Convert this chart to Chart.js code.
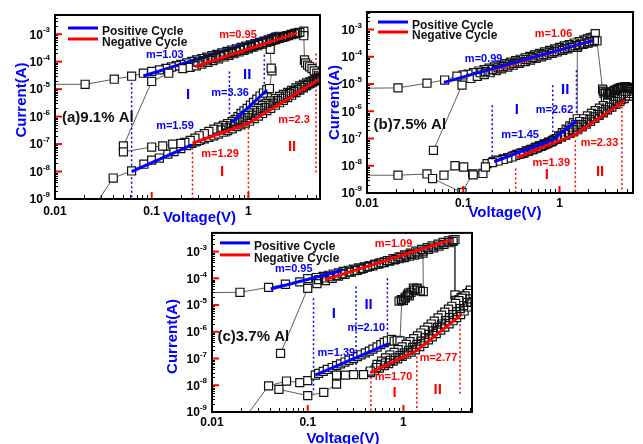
<!DOCTYPE html>
<html>
<head>
<meta charset="utf-8">
<script src="https://cdn.jsdelivr.net/npm/chart.js@4.4.1/dist/chart.umd.min.js"></script>
<style>
  html, body { margin: 0; padding: 0; background: #fff; }
  body { position: relative; width: 643px; height: 444px; overflow: hidden; }
  canvas { position: absolute; }
</style>
</head>
<body>
<canvas id="chartA" width="330" height="226" style="left:0;top:0"></canvas>
<canvas id="chartB" width="321" height="226" style="left:322px;top:0"></canvas>
<canvas id="chartC" width="330" height="218" style="left:150px;top:226px"></canvas>
<script>
const BLUE = '#0000ff'
const RED = '#ff0000'
const FONT = 'Arial, "Liberation Sans", sans-serif'

const xTickValues = [0.01, 0.1, 1]
const xTickLabels = ['0.01', '0.1', '1']

// ---- (a) 9.1% Al ----
const aPosV = [0.025, 0.040, 0.062, 0.083, 0.100, 0.120, 0.147, 0.170, 0.200, 0.230, 0.26, 0.29, 0.32, 0.36, 0.40, 0.44, 0.48, 0.53, 0.58, 0.63, 0.68, 0.73, 0.78, 0.84, 0.90, 0.97, 1.05, 1.13, 1.22, 1.32, 1.43, 1.55, 1.65, 1.75, 1.72, 1.68, 1.75, 1.85, 1.95, 2.05, 1.90, 1.75, 1.60, 1.45, 1.30, 1.17, 1.05, 0.94, 0.84, 0.75, 0.67, 0.60, 0.53, 0.47, 0.42, 0.37, 0.33, 0.29, 0.26, 0.23, 0.20, 0.18, 0.16, 0.14, 0.12, 0.10, 0.082, 0.062, 0.041, 0.0205, 0.008]
const aPosI = [5e-10, 5.8e-9, 1.05e-8, 1.85e-8, 2.6e-8, 3.1e-8, 4.3e-8, 5.3e-8, 6.8e-8, 8.8e-8, 1.05e-7, 1.25e-7, 1.45e-7, 1.75e-7, 2.1e-7, 2.5e-7, 2.9e-7, 3.5e-7, 4.2e-7, 5.2e-7, 6.5e-7, 8e-7, 1.0e-6, 1.3e-6, 1.6e-6, 2.0e-6, 2.6e-6, 3.3e-6, 4.3e-6, 5.6e-6, 7.2e-6, 9.5e-6, 1.05e-5, 4.6e-5, 5.8e-5, 2.8e-4, 6.6e-4, 7.2e-4, 7.8e-4, 8.4e-4, 7.6e-4, 6.9e-4, 6.2e-4, 5.6e-4, 5.0e-4, 4.5e-4, 4.1e-4, 3.7e-4, 3.3e-4, 2.95e-4, 2.65e-4, 2.35e-4, 2.1e-4, 1.85e-4, 1.65e-4, 1.45e-4, 1.3e-4, 1.15e-4, 1.02e-4, 9e-5, 8e-5, 7.1e-5, 6.4e-5, 5.7e-5, 5e-5, 4.4e-5, 3.8e-5, 2.95e-5, 2.3e-5, 1.5e-5, 1.5e-5]
const aNegV = [0.051, 0.10, 0.15, 0.21, 0.25, 0.29, 0.33, 0.38, 0.43, 0.49, 0.56, 0.63, 0.71, 0.80, 0.90, 1.00, 1.12, 1.25, 1.40, 1.55, 1.72, 1.90, 2.10, 2.30, 2.50, 2.75, 3.00, 3.30, 3.74, 3.74, 3.80, 3.90, 4.10, 4.30, 4.55, 4.80, 5.10, 5.30, 5.50, 5.50, 5.20, 4.90, 4.60, 4.30, 4.00, 3.70, 3.40, 3.10, 2.80, 2.55, 2.30, 2.10, 1.90, 1.70, 1.55, 1.40, 1.27, 1.15, 1.03, 0.93, 0.84, 0.76, 0.68, 0.61, 0.55, 0.49, 0.44, 0.39, 0.35, 0.31, 0.28, 0.25, 0.22, 0.20, 0.165, 0.13, 0.10, 0.051]
const aNegI = [8.5e-8, 1.9e-5, 3.8e-5, 5.6e-5, 6.2e-5, 7.0e-5, 8.2e-5, 9.5e-5, 1.1e-4, 1.27e-4, 1.48e-4, 1.7e-4, 1.95e-4, 2.25e-4, 2.6e-4, 2.95e-4, 3.35e-4, 3.8e-4, 4.35e-4, 5e-4, 5.7e-4, 6.4e-4, 7.2e-4, 8e-4, 8.8e-4, 9.8e-4, 1.08e-3, 1.15e-3, 1.3e-3, 8.8e-4, 1.15e-4, 9e-5, 7.5e-5, 6.5e-5, 5.6e-5, 4.6e-5, 3.8e-5, 3.2e-5, 2.8e-5, 2.6e-5, 2.4e-5, 2.2e-5, 2.0e-5, 1.85e-5, 1.7e-5, 1.5e-5, 1.3e-5, 1.1e-5, 9e-6, 7.6e-6, 6.4e-6, 5.4e-6, 4.5e-6, 3.7e-6, 3.0e-6, 2.5e-6, 2.0e-6, 1.65e-6, 1.35e-6, 1.1e-6, 9.2e-7, 7.8e-7, 6.6e-7, 5.6e-7, 4.8e-7, 4.1e-7, 3.5e-7, 2.9e-7, 2.4e-7, 2.0e-7, 1.65e-7, 1.35e-7, 1.15e-7, 1.05e-7, 1.0e-7, 8.5e-8, 7.8e-8, 5.2e-8]
const aSweepV = [0.25, 0.28, 0.31, 0.35, 0.39, 0.44, 0.49, 0.55, 0.61, 0.68, 0.76, 0.84, 0.93, 1.03, 1.15, 1.27, 1.40, 1.55, 1.70, 1.90, 2.10, 2.30, 2.55, 2.80, 3.10, 3.40, 3.70, 4.00, 4.30, 4.60, 4.90, 5.20, 5.50]
const aSweepI = [1.1e-7, 1.2e-7, 1.35e-7, 1.55e-7, 1.75e-7, 2.0e-7, 2.3e-7, 2.7e-7, 3.1e-7, 3.6e-7, 4.3e-7, 5.0e-7, 5.8e-7, 6.8e-7, 8.5e-7, 1.05e-6, 1.3e-6, 1.65e-6, 2.0e-6, 2.6e-6, 3.2e-6, 3.9e-6, 4.9e-6, 6.0e-6, 7.5e-6, 9.3e-6, 1.12e-5, 1.35e-5, 1.6e-5, 1.85e-5, 2.1e-5, 2.4e-5, 2.7e-5]
const aLrsV = [0.30, 0.34, 0.38, 0.42, 0.46, 0.51, 0.56, 0.62, 0.68, 0.75, 0.82, 0.90, 0.98, 1.07, 1.17, 1.28, 1.40, 1.52, 1.65, 1.80, 1.95, 2.10, 2.25, 2.40, 2.60, 2.80, 3.00, 3.20, 3.40]
const aLrsI = [9.5e-5, 1.08e-4, 1.2e-4, 1.33e-4, 1.46e-4, 1.62e-4, 1.78e-4, 1.97e-4, 2.17e-4, 2.4e-4, 2.65e-4, 2.95e-4, 3.25e-4, 3.55e-4, 3.9e-4, 4.3e-4, 4.7e-4, 5.1e-4, 5.6e-4, 6.1e-4, 6.7e-4, 7.2e-4, 7.7e-4, 8.2e-4, 8.9e-4, 9.6e-4, 1.03e-3, 1.1e-3, 1.17e-3]
const aHrsV = [0.52, 0.58, 0.65, 0.72, 0.80, 0.88, 0.98, 1.09, 1.21, 1.34, 1.48, 1.63, 1.80, 2.00, 2.20, 2.42, 2.67, 2.95, 3.25, 3.55, 3.85, 4.15, 4.45, 4.75, 5.05, 5.35]
const aHrsI = [3.3e-7, 3.9e-7, 4.6e-7, 5.4e-7, 6.4e-7, 7.5e-7, 9.2e-7, 1.12e-6, 1.38e-6, 1.7e-6, 2.1e-6, 2.6e-6, 3.1e-6, 3.8e-6, 4.6e-6, 5.6e-6, 6.8e-6, 8.2e-6, 9.8e-6, 1.15e-5, 1.35e-5, 1.52e-5, 1.7e-5, 1.9e-5, 2.1e-5, 2.4e-5]
const aFitBlueHiV = [0.082, 1.96]
const aFitBlueHiI = [3.0e-5, 1.0e-3]
const aFitRedHiV = [0.28, 3.16]
const aFitRedHiI = [6.6e-5, 1.1e-3]
const aFitBlueLoV = [0.062, 0.26]
const aFitBlueLoI = [1.0e-8, 9.3e-8]
const aFitBlueSetV = [0.68, 1.56]
const aFitBlueSetI = [6.3e-7, 9.3e-6]
const aFitRedLoV = [0.264, 1.0, 5.3]
const aFitRedLoI = [1.07e-7, 5.7e-7, 2.2e-5]
const aBlueCutV = [0.062, 0.636, 1.46]
const aBlueCutTop = [1.7e-5, 4.4e-5, 1.8e-4]
const aBlueCutBottom = [1e-9, 1.9e-7, 1.7e-6]
const aRedCutV = [0.264, 1.0, 5.0]
const aRedCutTop = [1.07e-7, 5.7e-7, 2e-4]
const aRedCutBottom = [1e-9, 1e-9, 8.5e-9]

// ---- (b) 7.5% Al ----
const bPosV = [0.0085, 0.021, 0.042, 0.048, 0.097, 0.125, 0.16, 0.177, 0.205, 0.23, 0.26, 0.29, 0.33, 0.37, 0.41, 0.46, 0.52, 0.58, 0.65, 0.73, 0.82, 0.90, 0.98, 1.07, 1.17, 1.28, 1.40, 1.53, 1.53, 1.65, 1.80, 1.95, 2.10, 2.25, 2.10, 1.95, 1.80, 1.60, 1.42, 1.26, 1.12, 1.00, 0.89, 0.79, 0.70, 0.62, 0.55, 0.49, 0.44, 0.39, 0.35, 0.31, 0.27, 0.24, 0.21, 0.185, 0.165, 0.145, 0.128, 0.112, 0.10, 0.086, 0.064, 0.042, 0.021, 0.0085]
const bPosI = [4.5e-9, 4.5e-9, 5.0e-9, 3.4e-9, 1.05e-9, 5.0e-9, 5.2e-9, 1.2e-8, 1.45e-8, 1.6e-8, 1.8e-8, 2.0e-8, 2.3e-8, 2.6e-8, 3.0e-8, 3.4e-8, 3.9e-8, 4.5e-8, 5.3e-8, 6.3e-8, 7.6e-8, 9.5e-8, 1.25e-7, 1.65e-7, 2.2e-7, 2.9e-7, 3.8e-7, 5.3e-7, 2.2e-4, 3.6e-4, 4.0e-4, 4.4e-4, 4.8e-4, 5.3e-4, 4.9e-4, 4.5e-4, 4.1e-4, 3.6e-4, 3.2e-4, 2.8e-4, 2.5e-4, 2.2e-4, 1.95e-4, 1.72e-4, 1.52e-4, 1.34e-4, 1.18e-4, 1.04e-4, 9.2e-5, 8.1e-5, 7.2e-5, 6.4e-5, 5.6e-5, 4.9e-5, 4.3e-5, 3.8e-5, 3.4e-5, 3.0e-5, 2.6e-5, 2.3e-5, 2.15e-5, 1.95e-5, 1.4e-5, 1.07e-5, 7.2e-6, 7.0e-6]
const bNegV = [0.049, 0.097, 0.12, 0.14, 0.165, 0.19, 0.22, 0.25, 0.29, 0.33, 0.38, 0.44, 0.50, 0.57, 0.65, 0.74, 0.84, 0.95, 1.08, 1.22, 1.38, 1.56, 1.76, 1.98, 2.20, 2.35, 2.45, 2.80, 2.90, 3.00, 3.20, 3.40, 3.70, 4.00, 4.40, 4.90, 5.40, 5.60, 5.40, 5.00, 4.60, 4.20, 3.80, 3.45, 3.15, 2.85, 2.60, 2.35, 2.15, 1.95, 1.78, 1.62, 1.48, 1.35, 1.23, 1.12, 1.02, 0.93, 0.85, 0.77, 0.70, 0.64, 0.58, 0.52, 0.47, 0.43, 0.39, 0.35, 0.32, 0.29, 0.26, 0.23, 0.20, 0.17, 0.127, 0.101, 0.082, 0.063]
const bNegI = [3.7e-8, 9.1e-6, 1.6e-5, 1.9e-5, 2.2e-5, 2.6e-5, 3.1e-5, 3.6e-5, 4.2e-5, 4.9e-5, 5.7e-5, 6.6e-5, 7.6e-5, 8.8e-5, 1.0e-4, 1.15e-4, 1.32e-4, 1.5e-4, 1.72e-4, 1.95e-4, 2.2e-4, 2.5e-4, 2.85e-4, 3.2e-4, 3.55e-4, 7.1e-4, 3.8e-4, 6.5e-6, 4.5e-6, 3.0e-6, 3.5e-6, 4.5e-6, 5.5e-6, 6.2e-6, 6.8e-6, 7.2e-6, 7.4e-6, 6.8e-6, 6.3e-6, 5.4e-6, 4.6e-6, 3.8e-6, 3.1e-6, 2.5e-6, 2.0e-6, 1.6e-6, 1.3e-6, 1.05e-6, 8.4e-7, 6.7e-7, 5.3e-7, 4.2e-7, 3.3e-7, 2.6e-7, 2.0e-7, 1.6e-7, 1.25e-7, 1.0e-7, 8.3e-8, 7.0e-8, 6.0e-8, 5.2e-8, 4.5e-8, 3.9e-8, 3.4e-8, 3.0e-8, 2.7e-8, 2.4e-8, 2.1e-8, 1.9e-8, 1.7e-8, 1.5e-8, 1.3e-8, 9e-9, 4.6e-9, 9e-9, 1.0e-8, 4.5e-9]
const bSweepV = [0.36, 0.40, 0.45, 0.50, 0.56, 0.62, 0.69, 0.77, 0.86, 0.95, 1.05, 1.16, 1.28, 1.40, 1.55, 1.72, 1.90, 2.10, 2.33, 2.58, 2.85, 3.15, 3.50, 3.85, 4.25, 4.70, 5.20]
const bSweepI = [2.6e-8, 3.0e-8, 3.5e-8, 4.0e-8, 4.7e-8, 5.5e-8, 6.4e-8, 7.4e-8, 8.7e-8, 1.0e-7, 1.16e-7, 1.34e-7, 1.56e-7, 1.75e-7, 2.1e-7, 2.7e-7, 3.4e-7, 4.3e-7, 5.5e-7, 7.0e-7, 8.8e-7, 1.12e-6, 1.43e-6, 1.8e-6, 2.3e-6, 2.9e-6, 3.6e-6]
const bLrsV = [0.15, 0.17, 0.20, 0.23, 0.26, 0.30, 0.34, 0.39, 0.45, 0.52, 0.60, 0.68, 0.78, 0.88, 1.00, 1.13, 1.28, 1.45, 1.62, 1.82, 2.05, 2.30]
const bLrsI = [2.6e-5, 2.9e-5, 3.4e-5, 3.9e-5, 4.4e-5, 5.0e-5, 5.7e-5, 6.5e-5, 8.0e-5, 9.3e-5, 1.07e-4, 1.21e-4, 1.38e-4, 1.56e-4, 1.78e-4, 2.0e-4, 2.25e-4, 2.55e-4, 2.85e-4, 3.2e-4, 3.6e-4, 4.0e-4]
const bHrsV = [0.42, 0.48, 0.54, 0.60, 0.67, 0.75, 0.84, 0.94, 1.04, 1.15, 1.27, 1.40, 1.55, 1.70, 1.88, 2.07, 2.28, 2.50, 2.75, 3.00, 3.30, 3.65, 4.00, 4.40, 4.85, 5.30]
const bHrsI = [3.0e-8, 3.5e-8, 4.1e-8, 4.8e-8, 5.6e-8, 6.6e-8, 7.9e-8, 9.5e-8, 1.14e-7, 1.4e-7, 1.7e-7, 2.1e-7, 2.6e-7, 3.2e-7, 4.0e-7, 5.0e-7, 6.2e-7, 7.6e-7, 9.4e-7, 1.15e-6, 1.42e-6, 1.8e-6, 2.25e-6, 2.8e-6, 3.6e-6, 4.5e-6]
const bKnotV = [2.85, 3.0, 3.15, 3.3, 3.5, 3.7, 3.9, 4.1, 4.3, 4.5, 4.7, 4.9, 5.1, 5.3, 5.5]
const bKnotI = [5.5e-6, 5.0e-6, 4.2e-6, 4.6e-6, 5.2e-6, 5.8e-6, 6.4e-6, 6.9e-6, 7.3e-6, 7.6e-6, 7.9e-6, 8.0e-6, 7.6e-6, 7.2e-6, 6.8e-6]
const bFitBlueHiV = [0.063, 2.26]
const bFitBlueHiI = [1.15e-5, 4e-4]
const bFitRedHiV = [0.2, 2.2]
const bFitRedHiI = [3.3e-5, 3.9e-4]
const bFitBlueLoV = [0.21, 0.87, 1.5]
const bFitBlueLoI = [1.4e-8, 9.5e-8, 4.5e-7]
const bFitRedLoV = [0.36, 1.46, 4.8]
const bFitRedLoI = [2.0e-8, 1.4e-7, 2.5e-6]
const bBlueCutV = [0.2, 0.85, 1.5]
const bBlueCutTop = [1.66e-6, 9e-6, 3.2e-5]
const bBlueCutBottom = [9e-9, 6.5e-8, 8.3e-7]
const bRedCutV = [0.35, 1.46, 4.45]
const bRedCutTop = [8e-9, 8.7e-8, 1e-5]
const bRedCutBottom = [1e-9, 1e-9, 1e-9]

// ---- (c) 3.7% Al ----
const cPosV = [0.022, 0.039, 0.060, 0.0826, 0.10, 0.12, 0.13, 0.145, 0.16, 0.18, 0.20, 0.22, 0.245, 0.27, 0.30, 0.33, 0.36, 0.40, 0.44, 0.48, 0.53, 0.58, 0.63, 0.68, 0.75, 0.80, 0.86, 0.92, 0.96, 1.04, 1.13, 1.27, 1.38, 1.61, 1.60, 1.45, 1.30, 1.15, 1.02, 0.90, 0.80, 0.71, 0.63, 0.56, 0.50, 0.44, 0.39, 0.34, 0.30, 0.265, 0.235, 0.21, 0.185, 0.165, 0.145, 0.123, 0.10, 0.0826, 0.0585, 0.039, 0.0196, 0.008]
const cPosI = [6e-10, 9.5e-9, 1.44e-8, 1.26e-8, 1.5e-8, 2.4e-8, 2.8e-8, 3.3e-8, 3.9e-8, 4.6e-8, 5.4e-8, 6.3e-8, 7.4e-8, 8.6e-8, 1.0e-7, 1.18e-7, 1.38e-7, 1.62e-7, 1.9e-7, 2.25e-7, 2.7e-7, 3.3e-7, 4.0e-7, 4.6e-7, 5.2e-7, 4.5e-7, 4.8e-7, 4.6e-7, 1.5e-5, 1.8e-5, 2.8e-5, 4.3e-5, 4.3e-5, 3.2e-5, 8.8e-4, 8.1e-4, 7.4e-4, 6.7e-4, 6.0e-4, 5.4e-4, 4.9e-4, 4.5e-4, 4.1e-4, 3.7e-4, 3.3e-4, 3.0e-4, 2.7e-4, 2.45e-4, 2.2e-4, 2.0e-4, 1.8e-4, 1.6e-4, 1.45e-4, 1.3e-4, 1.18e-4, 1.07e-4, 9.8e-5, 7.4e-5, 6.0e-5, 4.6e-5, 3.0e-5, 2.9e-5]
const cNegV = [0.052, 0.10, 0.125, 0.153, 0.18, 0.21, 0.245, 0.285, 0.33, 0.38, 0.44, 0.51, 0.59, 0.68, 0.78, 0.90, 1.03, 1.18, 1.35, 1.55, 1.77, 2.0, 2.3, 2.6, 2.95, 3.3, 3.45, 3.45, 3.5, 3.6, 3.8, 4.0, 4.3, 4.6, 4.9, 5.0, 4.7, 4.4, 4.1, 3.8, 3.5, 3.2, 2.95, 2.7, 2.5, 2.3, 2.1, 1.95, 1.8, 1.65, 1.52, 1.4, 1.28, 1.17, 1.07, 0.97, 0.88, 0.8, 0.72, 0.65, 0.59, 0.53, 0.45, 0.383, 0.302, 0.247, 0.2, 0.2, 0.147, 0.1, 0.05]
const cNegI = [1.55e-7, 4.2e-5, 6.3e-5, 8.2e-5, 1.0e-4, 1.2e-4, 1.42e-4, 1.7e-4, 2.0e-4, 2.35e-4, 2.8e-4, 3.3e-4, 3.9e-4, 4.6e-4, 5.4e-4, 6.4e-4, 7.5e-4, 8.8e-4, 1.03e-3, 1.2e-3, 1.4e-3, 1.62e-3, 1.9e-3, 2.2e-3, 2.5e-3, 2.75e-3, 2.8e-3, 2.4e-5, 1.5e-5, 1.3e-5, 1.6e-5, 1.9e-5, 2.2e-5, 2.6e-5, 3.0e-5, 3.6e-5, 2.7e-5, 2.2e-5, 1.8e-5, 1.45e-5, 1.15e-5, 9e-6, 7e-6, 5.4e-6, 4.2e-6, 3.3e-6, 2.5e-6, 1.95e-6, 1.5e-6, 1.15e-6, 9e-7, 7e-7, 5.5e-7, 4.3e-7, 3.4e-7, 2.7e-7, 2.15e-7, 1.7e-7, 1.35e-7, 1.05e-7, 8e-8, 6e-8, 3.4e-8, 2.5e-8, 2.5e-8, 2.4e-8, 2.4e-8, 1.1e-8, 5.4e-9, 4.1e-9, 7e-9]
const cSweepV = [0.45, 0.5, 0.56, 0.63, 0.7, 0.78, 0.87, 0.97, 1.08, 1.2, 1.33, 1.48, 1.64, 1.82, 2.0, 2.2, 2.45, 2.7, 3.0, 3.3, 3.6, 3.95, 4.3, 4.65, 5.0]
const cSweepI = [3.0e-8, 3.6e-8, 4.4e-8, 5.4e-8, 6.5e-8, 8e-8, 9.8e-8, 1.2e-7, 1.45e-7, 1.75e-7, 2.1e-7, 2.8e-7, 3.7e-7, 5e-7, 6.5e-7, 8.6e-7, 1.15e-6, 1.5e-6, 2.0e-6, 2.6e-6, 3.4e-6, 4.4e-6, 6e-6, 8.5e-6, 1.3e-5]
const cLrsV = [0.13, 0.15, 0.17, 0.20, 0.23, 0.27, 0.31, 0.36, 0.42, 0.48, 0.55, 0.63, 0.72, 0.82, 0.94, 1.07, 1.22, 1.40, 1.60, 1.82, 2.07, 2.35, 2.65, 3.00, 3.30]
const cLrsI = [9e-5, 1.03e-4, 1.15e-4, 1.3e-4, 1.48e-4, 1.7e-4, 1.93e-4, 2.2e-4, 2.6e-4, 2.95e-4, 3.4e-4, 3.9e-4, 4.5e-4, 5.1e-4, 5.9e-4, 6.8e-4, 7.8e-4, 9e-4, 1.04e-3, 1.2e-3, 1.38e-3, 1.6e-3, 1.85e-3, 2.15e-3, 2.4e-3]
const cHrsV = [0.52, 0.58, 0.65, 0.73, 0.82, 0.92, 1.02, 1.13, 1.25, 1.38, 1.52, 1.68, 1.85, 2.05, 2.27, 2.50, 2.75, 3.02, 3.30, 3.60, 3.92, 4.25, 4.60, 4.95]
const cHrsI = [4.6e-8, 5.6e-8, 6.9e-8, 8.5e-8, 1.05e-7, 1.3e-7, 1.62e-7, 2.0e-7, 2.6e-7, 3.4e-7, 4.5e-7, 6.0e-7, 8.0e-7, 1.08e-6, 1.45e-6, 1.95e-6, 2.6e-6, 3.4e-6, 4.4e-6, 5.7e-6, 7.4e-6, 9.6e-6, 1.25e-5, 1.7e-5]
const cKnotV = [0.90, 0.95, 1.00, 1.05, 1.10, 1.15, 1.20, 1.30, 1.40, 1.50]
const cKnotI = [1.4e-5, 1.6e-5, 1.45e-5, 2.0e-5, 2.4e-5, 2.2e-5, 3.0e-5, 3.6e-5, 4.0e-5, 3.4e-5]
const cFitBlueHiV = [0.041, 0.228]
const cFitBlueHiI = [4e-5, 1.96e-4]
const cFitRedHiV = [0.153, 3.19]
const cFitRedHiI = [8.9e-5, 2.8e-3]
const cFitBlueLoV = [0.12, 0.7]
const cFitBlueLoI = [2.4e-8, 3.6e-7]
const cFitRedLoV = [0.45, 1.38, 4.05]
const cFitRedLoI = [2.9e-8, 2.0e-7, 4.5e-6]
const cBlueCutV = [0.115, 0.32, 0.68]
const cBlueCutTop = [1.8e-5, 4.9e-5, 1e-4]
const cBlueCutBottom = [5e-9, 3.8e-8, 1.35e-7]
const cRedCutV = [0.457, 1.38, 3.9]
const cRedCutTop = [4.4e-8, 8.3e-7, 9.1e-6]
const cRedCutBottom = [1e-9, 1e-9, 4.7e-9]

function pts(vs, is) {
  return vs.map((v, k) => ({ x: v, y: is[k] }))
}

function markers(vs, is, order, hollow) {
  return {
    data: pts(vs, is), showLine: true, borderColor: '#333', borderWidth: 0.8,
    pointStyle: 'rect', pointRadius: 5.7, pointBackgroundColor: hollow ? 'rgba(0,0,0,0)' : '#fff',
    pointBorderColor: '#111', pointBorderWidth: 1.2, order: order
  }
}

function fit(vs, is, color, order) {
  return { data: pts(vs, is), showLine: true, borderColor: color, borderWidth: 3, pointRadius: 0, order: order }
}

function cuts(vs, tops, bottoms, color) {
  return vs.map((v, k) => ({
    data: [{ x: v, y: tops[k] }, { x: v, y: bottoms[k] }], showLine: true,
    borderColor: color, borderWidth: 1.5, borderDash: [2, 2.5], pointRadius: 0, order: 9
  }))
}

function drawPow(ctx, exp, xRight, yMid) {
  const sup = String(exp)
  ctx.font = 'bold 8px ' + FONT
  const sw = ctx.measureText(sup).width
  ctx.font = 'bold 12px ' + FONT
  const bw = ctx.measureText('10').width
  ctx.textAlign = 'left'
  ctx.textBaseline = 'middle'
  ctx.fillText('10', xRight - sw - bw, yMid + 1)
  ctx.font = 'bold 8px ' + FONT
  ctx.fillText(sup, xRight - sw, yMid - 4)
}

// frame, inward ticks, tick labels, titles, legend and notes
function decor(panel) {
  return {
    id: 'decor',
    afterDatasetsDraw(chart) {
      const { ctx, chartArea: a, scales: { x, y } } = chart
      ctx.save()

      // minor ticks
      ctx.strokeStyle = '#000'
      ctx.lineWidth = 1
      for (let d = -9; d <= -3; d++) {
        for (let k = 2; k <= 9; k++) {
          const v = k * Math.pow(10, d)
          if (v >= y.max) continue
          const py = Math.round(y.getPixelForValue(v)) + 0.5
          ctx.beginPath(); ctx.moveTo(a.left, py); ctx.lineTo(a.left + 3, py); ctx.stroke()
        }
      }
      for (let d = -2; d <= 0; d++) {
        for (let k = 2; k <= 9; k++) {
          const v = k * Math.pow(10, d)
          if (v >= x.max) continue
          const px = Math.round(x.getPixelForValue(v)) + 0.5
          ctx.beginPath(); ctx.moveTo(px, a.bottom); ctx.lineTo(px, a.bottom - 4); ctx.stroke()
        }
      }

      // major ticks in red
      ctx.strokeStyle = RED
      ctx.lineWidth = 2
      for (let d = -9; d <= -3; d++) {
        const py = y.getPixelForValue(Math.pow(10, d))
        ctx.beginPath(); ctx.moveTo(a.left, py); ctx.lineTo(a.left + 7, py); ctx.stroke()
      }
      xTickValues.forEach(v => {
        const px = x.getPixelForValue(v)
        ctx.beginPath(); ctx.moveTo(px, a.bottom); ctx.lineTo(px, a.bottom - 7); ctx.stroke()
      })

      // frame
      ctx.strokeStyle = '#000'
      ctx.lineWidth = 2
      ctx.strokeRect(a.left, a.top, a.right - a.left, a.bottom - a.top)

      // tick labels
      ctx.fillStyle = '#000'
      for (let d = -9; d <= -3; d++) {
        drawPow(ctx, d, a.left - 5, y.getPixelForValue(Math.pow(10, d)))
      }
      ctx.font = 'bold 12px ' + FONT
      ctx.textAlign = 'center'
      ctx.textBaseline = 'middle'
      xTickValues.forEach((v, k) => {
        ctx.fillText(xTickLabels[k], x.getPixelForValue(v), a.bottom + panel.xLabelDy)
      })

      // axis titles
      ctx.fillStyle = BLUE
      ctx.font = 'bold 15px ' + FONT
      ctx.fillText('Voltage(V)', (a.left + a.right) / 2 + panel.xTitle[0], a.bottom + panel.xTitle[1])
      ctx.save()
      ctx.translate(a.left + panel.yTitle[0], (a.top + a.bottom) / 2 + panel.yTitle[1])
      ctx.rotate(-Math.PI / 2)
      ctx.fillText('Current(A)', 0, 0)
      ctx.restore()

      // legend
      const lx = a.left + panel.legend[0]
      const rows = [[panel.legend[1], BLUE, 'Positive Cycle'], [panel.legend[2], RED, 'Negative Cycle']]
      rows.forEach(([dy, color, label]) => {
        ctx.strokeStyle = color
        ctx.lineWidth = 3
        ctx.beginPath(); ctx.moveTo(lx, a.top + dy); ctx.lineTo(lx + 30, a.top + dy); ctx.stroke()
        ctx.fillStyle = '#111'
        ctx.font = 'bold 12px ' + FONT
        ctx.textAlign = 'left'
        ctx.fillText(label, lx + 34, a.top + dy + 3.5)
      })

      // slope notes and region marks
      panel.notes.forEach(n => {
        ctx.fillStyle = n.c
        ctx.font = (n.big ? 'bold 15px ' : 'bold 11px ') + FONT
        ctx.textAlign = 'center'
        ctx.fillText(n.t, x.getPixelForValue(n.v), y.getPixelForValue(n.i))
      })
      ctx.fillStyle = '#111'
      ctx.font = 'bold 15px ' + FONT
      ctx.textAlign = 'left'
      ctx.fillText(panel.label.t, x.getPixelForValue(panel.label.v), y.getPixelForValue(panel.label.i))

      ctx.restore()
    }
  }
}

function build(id, panel, datasets) {
  new Chart(document.getElementById(id), {
    type: 'scatter',
    data: { datasets: datasets },
    options: {
      responsive: false,
      animation: false,
      layout: { padding: panel.pad },
      scales: {
        x: { type: 'logarithmic', min: 0.01, max: panel.xMax, display: false },
        y: { type: 'logarithmic', min: 1e-9, max: panel.yMax, display: false }
      },
      plugins: { legend: { display: false }, tooltip: { enabled: false } }
    },
    plugins: [decor(panel)]
  })
}

build('chartA', {
  pad: { left: 55, top: 15, right: 10, bottom: 27 }, xMax: 5.5, yMax: 5e-3,
  xLabelDy: 13, xTitle: [12, 19], yTitle: [-33, -7], legend: [13, 13, 24],
  label: { t: '(a)9.1% Al', v: 0.0118, i: 8.9e-7 },
  notes: [
    { t: 'm=1.03', v: 0.137, i: 1.77e-4, c: BLUE },
    { t: 'm=0.95', v: 0.78, i: 9.5e-4, c: RED },
    { t: 'I', v: 0.238, i: 6.2e-6, c: BLUE, big: true },
    { t: 'II', v: 0.97, i: 3.3e-5, c: BLUE, big: true },
    { t: 'm=3.36', v: 0.646, i: 7.2e-6, c: BLUE },
    { t: 'm=1.59', v: 0.174, i: 4.6e-7, c: BLUE },
    { t: 'm=1.29', v: 0.509, i: 4.4e-8, c: RED },
    { t: 'I', v: 0.534, i: 9.5e-9, c: RED, big: true },
    { t: 'm=2.3', v: 2.97, i: 7.6e-7, c: RED },
    { t: 'II', v: 2.83, i: 7.8e-8, c: RED, big: true }
  ]
}, [
  fit(aFitRedHiV, aFitRedHiI, RED, 1),
  fit(aFitRedLoV, aFitRedLoI, RED, 1),
  fit(aFitBlueSetV, aFitBlueSetI, BLUE, 1),
  fit(aFitBlueLoV, aFitBlueLoI, BLUE, 1),
  markers(aLrsV, aLrsI, 2, true),
  markers(aHrsV, aHrsI, 2, true),
  markers(aNegV, aNegI, 3),
  markers(aSweepV, aSweepI, 3),
  fit(aFitBlueHiV, aFitBlueHiI, BLUE, 4),
  markers(aPosV, aPosI, 5),
  ...cuts(aBlueCutV, aBlueCutTop, aBlueCutBottom, BLUE),
  ...cuts(aRedCutV, aRedCutTop, aRedCutBottom, RED)
])

build('chartB', {
  pad: { left: 45, top: 12, right: 10, bottom: 33 }, xMax: 5.8, yMax: 4.4e-3,
  xLabelDy: 11, xTitle: [5, 20], yTitle: [-32, 0], legend: [11, 10, 20],
  label: { t: '(b)7.5% Al', v: 0.0117, i: 3.1e-7 },
  notes: [
    { t: 'm=0.99', v: 0.163, i: 8.6e-5, c: BLUE },
    { t: 'm=1.06', v: 0.867, i: 7.1e-4, c: RED },
    { t: 'I', v: 0.36, i: 1.1e-6, c: BLUE, big: true },
    { t: 'II', v: 1.145, i: 5.9e-6, c: BLUE, big: true },
    { t: 'm=2.62', v: 0.887, i: 1.1e-6, c: BLUE },
    { t: 'm=1.45', v: 0.39, i: 1.3e-7, c: BLUE },
    { t: 'm=1.39', v: 0.82, i: 1.3e-8, c: RED },
    { t: 'm=2.33', v: 2.6, i: 6.9e-8, c: RED },
    { t: 'I', v: 0.74, i: 4.5e-9, c: RED, big: true },
    { t: 'II', v: 2.64, i: 5.9e-9, c: RED, big: true }
  ]
}, [
  fit(bFitBlueHiV, bFitBlueHiI, BLUE, 1),
  fit(bFitRedHiV, bFitRedHiI, RED, 1),
  fit(bFitBlueLoV, bFitBlueLoI, BLUE, 1),
  fit(bFitRedLoV, bFitRedLoI, RED, 1),
  markers(bLrsV, bLrsI, 2, true),
  markers(bHrsV, bHrsI, 2, true),
  markers(bKnotV, bKnotI, 2, true),
  markers(bNegV, bNegI, 3),
  markers(bSweepV, bSweepI, 3),
  markers(bPosV, bPosI, 5),
  ...cuts(bBlueCutV, bBlueCutTop, bBlueCutBottom, BLUE),
  ...cuts(bRedCutV, bRedCutTop, bRedCutBottom, RED)
])

build('chartC', {
  pad: { left: 62, top: 2, right: 8, bottom: 32 }, xMax: 5.2, yMax: 5e-3,
  xLabelDy: 11, xTitle: [1, 27], yTitle: [-39, 14], legend: [8, 10, 22],
  label: { t: '(c)3.7% Al', v: 0.0114, i: 6.3e-7 },
  notes: [
    { t: 'm=0.95', v: 0.0715, i: 2.26e-4, c: BLUE },
    { t: 'm=1.09', v: 0.787, i: 1.96e-3, c: RED },
    { t: 'I', v: 0.187, i: 4.5e-6, c: BLUE, big: true },
    { t: 'II', v: 0.432, i: 1.05e-5, c: BLUE, big: true },
    { t: 'm=2.10', v: 0.408, i: 1.35e-6, c: BLUE },
    { t: 'm=1.39', v: 0.199, i: 1.55e-7, c: BLUE },
    { t: 'm=2.77', v: 2.32, i: 1.02e-7, c: RED },
    { t: 'm=1.70', v: 0.787, i: 2.0e-8, c: RED },
    { t: 'I', v: 0.806, i: 5.3e-9, c: RED, big: true },
    { t: 'II', v: 2.28, i: 6.6e-9, c: RED, big: true }
  ]
}, [
  fit(cFitRedHiV, cFitRedHiI, RED, 1),
  fit(cFitBlueHiV, cFitBlueHiI, BLUE, 1),
  fit(cFitBlueLoV, cFitBlueLoI, BLUE, 1),
  fit(cFitRedLoV, cFitRedLoI, RED, 1),
  markers(cLrsV, cLrsI, 2, true),
  markers(cHrsV, cHrsI, 2, true),
  markers(cKnotV, cKnotI, 2, true),
  markers(cNegV, cNegI, 3),
  markers(cSweepV, cSweepI, 3),
  markers(cPosV, cPosI, 5),
  ...cuts(cBlueCutV, cBlueCutTop, cBlueCutBottom, BLUE),
  ...cuts(cRedCutV, cRedCutTop, cRedCutBottom, RED)
])
</script>
</body>
</html>
